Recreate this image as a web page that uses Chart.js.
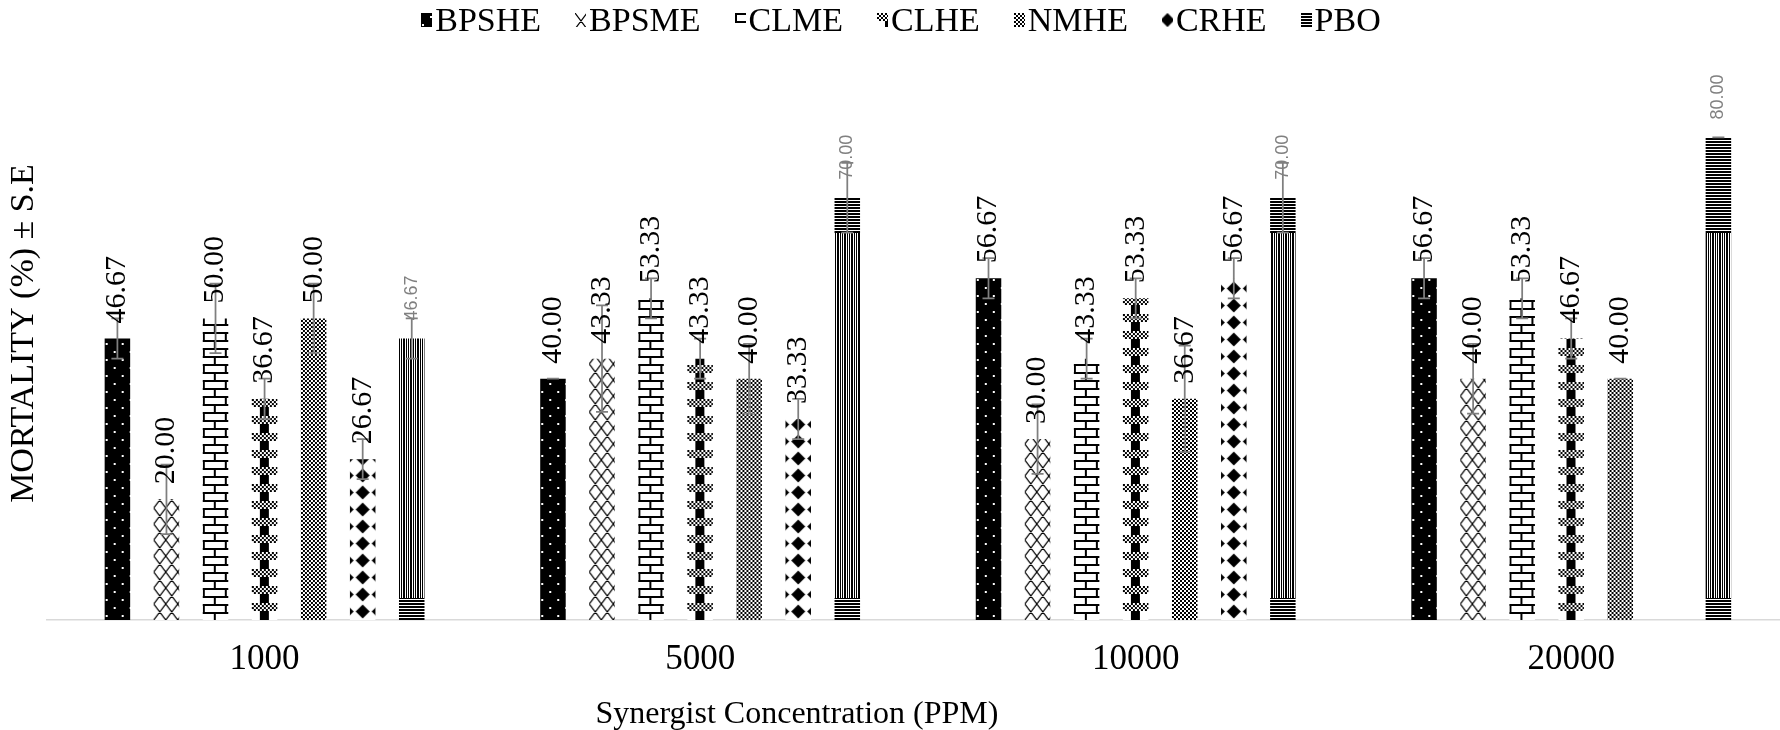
<!DOCTYPE html>
<html>
<head>
<meta charset="utf-8">
<script src="https://cdn.jsdelivr.net/npm/chart.js@4.4.0/dist/chart.umd.min.js"></script>
<style>
  html, body { margin: 0; padding: 0; background: #fff; overflow: hidden; }
  #wrap { position: relative; width: 1789px; height: 730px; }
  #legend {
    position: absolute; top: 0; left: 0; width: 1802px; height: 40px;
    display: flex; justify-content: center; align-items: center;
    font: 34px/40px "Liberation Serif", serif; color: #000; white-space: nowrap; z-index: 2;
  }
  .item { display: flex; align-items: center; margin: 0 17px; }
  .item canvas { margin-right: 3px; display: block; }
  #xTitle {
    position: absolute; left: 0; top: 692px; width: 1594px; height: 40px;
    text-align: center; font: 32px/40px "Liberation Serif", serif; color: #000;
    white-space: nowrap; z-index: 2;
  }
  #chart { position: absolute; top: 0; left: 0; }
</style>
</head>
<body>
<div id="wrap">
  <div id="legend"></div>
  <canvas id="chart" width="1789" height="730"></canvas>
  <div id="xTitle">Synergist Concentration (PPM)</div>
</div>
<script>
// Synergist concentrations (x categories)
const categories = ['1000', '5000', '10000', '20000'];
const seriesNames = ['BPSHE', 'BPSME', 'CLME', 'CLHE', 'NMHE', 'CRHE', 'PBO'];

// Mean mortality (%) per extract
const bpsheMean = [46.67, 40.00, 56.67, 56.67];
const bpsmeMean = [20.00, 43.33, 30.00, 40.00];
const clmeMean  = [50.00, 53.33, 43.33, 53.33];
const clheMean  = [36.67, 43.33, 53.33, 46.67];
const nmheMean  = [50.00, 40.00, 36.67, 40.00];
const crheMean  = [26.67, 33.33, 56.67, null];
const pboMean   = [46.67, 70.00, 70.00, 80.00];

// Standard errors
const bpsheSE = [3.33, 0.00, 3.33, 3.33];
const bpsmeSE = [5.77, 8.82, 5.77, 5.77];
const clmeSE  = [5.77, 3.33, 3.33, 3.33];
const clheSE  = [3.33, 3.33, 3.33, 3.33];
const nmheSE  = [5.77, 5.77, 8.82, 0.00];
const crheSE  = [3.33, 3.33, 3.33, null];
const pboSE   = [3.33, 5.77, 5.77, 0.00];

const CAT_PCT = 0.7884;
const BAR_PCT = 0.52;

// ---- monochrome fill textures ----
function makeTile(w, h, paint) {
  const c = document.createElement('canvas');
  c.width = w; c.height = h;
  const g = c.getContext('2d');
  g.fillStyle = '#fff'; g.fillRect(0, 0, w, h);
  g.fillStyle = '#000'; g.strokeStyle = '#000';
  paint(g, w, h);
  return c;
}
function strokeWrapped(g, w, h, segs) {
  g.beginPath();
  for (const ox of [-w, 0, w]) for (const oy of [-h, 0, h]) {
    for (const s of segs) { g.moveTo(s[0] + ox, s[1] + oy); g.lineTo(s[2] + ox, s[3] + oy); }
  }
  g.stroke();
}

const tiles = {
  // black with staggered white dots
  BPSHE: makeTile(16, 16, g => {
    g.fillRect(0, 0, 16, 16);
    g.fillStyle = '#fff';
    g.fillRect(9, 3, 2, 2);
    g.fillRect(1, 11, 2, 2);
  }),
  // crossing diagonal lattice
  BPSME: makeTile(12, 16, (g, w, h) => {
    g.lineWidth = 1.2;
    strokeWrapped(g, w, h, [[0, 0, 12, 16], [12, 0, 0, 16]]);
  }),
  // horizontal brick
  CLME: makeTile(22, 16, g => {
    g.fillRect(0, 0, 22, 2);
    g.fillRect(0, 8, 22, 2);
    g.fillRect(0, 2, 2, 6);
    g.fillRect(11, 10, 2, 6);
  }),
  // plaid: black column with checkered bands
  CLHE: makeTile(26, 17, g => {
    g.fillRect(8, 0, 9, 17);
    g.fillStyle = '#fff'; g.fillRect(0, 0, 26, 8);
    g.fillStyle = '#000';
    for (let y = 0; y < 8; y += 2) for (let x = 0; x < 26; x += 2) if (((x + y) / 2) % 2 === 0) g.fillRect(x, y, 2, 2);
  }),
  // small checker
  NMHE: makeTile(4, 4, g => {
    g.fillRect(0, 0, 2, 2);
    g.fillRect(2, 2, 2, 2);
  }),
  // solid diamonds
  CRHE: makeTile(16, 17, (g, w, h) => {
    for (const ox of [-w, 0, w]) for (const oy of [-h, 0, h]) {
      const cx = 8 + ox, cy = 8.5 + oy, rx = 7, ry = 7;
      g.beginPath();
      g.moveTo(cx, cy - ry); g.lineTo(cx + rx, cy); g.lineTo(cx, cy + ry); g.lineTo(cx - rx, cy);
      g.closePath(); g.fill();
    }
  }),
  // fine line texture, horizontal near the top and bottom of the plot, vertical between
  PBO: makeTile(7, 730, g => {
    const cols = [1, 0, 1, 0, 1, 1, 0];
    for (let y = 0; y < 730; y++) {
      if (y < 233 || y >= 598) {
        if (y % 3 !== 2) g.fillRect(0, y, 7, 1);
      } else {
        for (let x = 0; x < 7; x++) if (cols[x]) g.fillRect(x, y, 1, 1);
      }
    }
  })
};
// horizontal stripes for the PBO key swatch
const pboKeyTile = makeTile(4, 3, g => g.fillRect(0, 0, 4, 2));

// horizontal offset of each texture inside its bar
const tileShift = { BPSHE: 0, BPSME: 0, CLME: 0, CLHE: 0, NMHE: 0, CRHE: 4.75, PBO: 0 };

function barFill(ctx) {
  const chart = ctx.chart;
  const name = ctx.dataset ? ctx.dataset.label : 'BPSHE';
  const pattern = chart.ctx.createPattern(tiles[name], 'repeat');
  if (name === 'PBO' || ctx.type !== 'data') return pattern;
  const xs = chart.scales.x, ys = chart.scales.y;
  if (!xs || !ys || !(xs.width > 0)) return pattern;
  const catW = xs.width / categories.length;
  const group = catW * CAT_PCT;
  const slot = group / seriesNames.length;
  const left = xs.getPixelForValue(ctx.dataIndex) - group / 2 + slot * ctx.datasetIndex + slot * (1 - BAR_PCT) / 2;
  const base = ys.getPixelForValue(0);
  if (isFinite(left) && isFinite(base)) {
    pattern.setTransform(new DOMMatrix([1, 0, 0, 1, left + tileShift[name], base]));
  }
  return pattern;
}

const means = [bpsheMean, bpsmeMean, clmeMean, clheMean, nmheMean, crheMean, pboMean];
const errs  = [bpsheSE, bpsmeSE, clmeSE, clheSE, nmheSE, crheSE, pboSE];

const datasets = seriesNames.map((name, i) => ({
  label: name,
  data: means[i],
  errors: errs[i],
  backgroundColor: barFill,
  borderWidth: 0
}));

// error bars, then rotated value labels
const barAnnotations = {
  id: 'barAnnotations',
  afterDatasetsDraw(chart) {
    const { ctx } = chart;
    const ys = chart.scales.y;
    ctx.save();
    ctx.strokeStyle = '#7f7f7f';
    ctx.lineWidth = 1.75;
    chart.data.datasets.forEach((ds, di) => {
      chart.getDatasetMeta(di).data.forEach((bar, i) => {
        const v = ds.data[i], e = ds.errors[i];
        if (v == null || e == null) return;
        const top = ys.getPixelForValue(v + e);
        const bot = ys.getPixelForValue(v - e);
        const cx = bar.x, half = 6;
        ctx.beginPath();
        ctx.moveTo(cx, top); ctx.lineTo(cx, bot);
        ctx.moveTo(cx - half, top); ctx.lineTo(cx + half, top);
        ctx.moveTo(cx - half, bot); ctx.lineTo(cx + half, bot);
        ctx.stroke();
      });
    });
    chart.data.datasets.forEach((ds, di) => {
      const isRef = ds.label === 'PBO';
      chart.getDatasetMeta(di).data.forEach((bar, i) => {
        const v = ds.data[i];
        if (v == null) return;
        ctx.save();
        ctx.translate(bar.x, bar.y - (isRef ? 18 : 15));
        ctx.rotate(-Math.PI / 2);
        ctx.font = isRef ? '18px "Liberation Sans"' : '30px "Liberation Serif"';
        ctx.fillStyle = isRef ? '#808080' : '#000';
        ctx.textAlign = 'left';
        ctx.textBaseline = 'middle';
        ctx.fillText(v.toFixed(2), 0, 0);
        ctx.restore();
      });
    });
    ctx.restore();
  }
};

function buildKey() {
  const box = document.getElementById('legend');
  seriesNames.forEach(name => {
    const item = document.createElement('div');
    item.className = 'item';
    const sw = document.createElement('canvas');
    sw.width = 11; sw.height = 14;
    const g = sw.getContext('2d');
    const src = name === 'PBO' ? pboKeyTile : tiles[name];
    const p = g.createPattern(src, 'repeat');
    if (name === 'CRHE') p.setTransform(new DOMMatrix([1, 0, 0, 1, -2.5, -1.5]));
    g.fillStyle = p;
    g.fillRect(0, 0, 11, 14);
    const txt = document.createElement('span');
    txt.textContent = name;
    item.appendChild(sw);
    item.appendChild(txt);
    box.appendChild(item);
  });
}

function draw() {
  buildKey();
  new Chart(document.getElementById('chart'), {
    type: 'bar',
    data: { labels: categories, datasets },
    options: {
      responsive: false,
      animation: false,
      events: [],
      layout: { padding: { top: 47, left: 0, right: 0, bottom: 30 } },
      datasets: { bar: { categoryPercentage: CAT_PCT, barPercentage: BAR_PCT } },
      plugins: { legend: { display: false }, tooltip: { enabled: false } },
      scales: {
        x: {
          grid: { display: false, drawTicks: false },
          border: { display: true, color: '#d9d9d9', width: 1.5 },
          ticks: { color: '#000', font: { family: 'Liberation Serif', size: 35 }, padding: 19 },
          title: { display: false }
        },
        y: {
          min: 0, max: 95,
          grid: { display: false, drawTicks: false },
          border: { display: false },
          ticks: { display: false },
          title: {
            display: true, text: 'MORTALITY (%) ± S.E', color: '#000',
            font: { family: 'Liberation Serif', size: 34 }, padding: { top: 4, bottom: 2 }
          }
        }
      }
    },
    plugins: [barAnnotations]
  });
}

Promise.all([
  document.fonts.load('30px "Liberation Serif"'),
  document.fonts.load('18px "Liberation Sans"')
]).then(draw, draw);
</script>
</body>
</html>
